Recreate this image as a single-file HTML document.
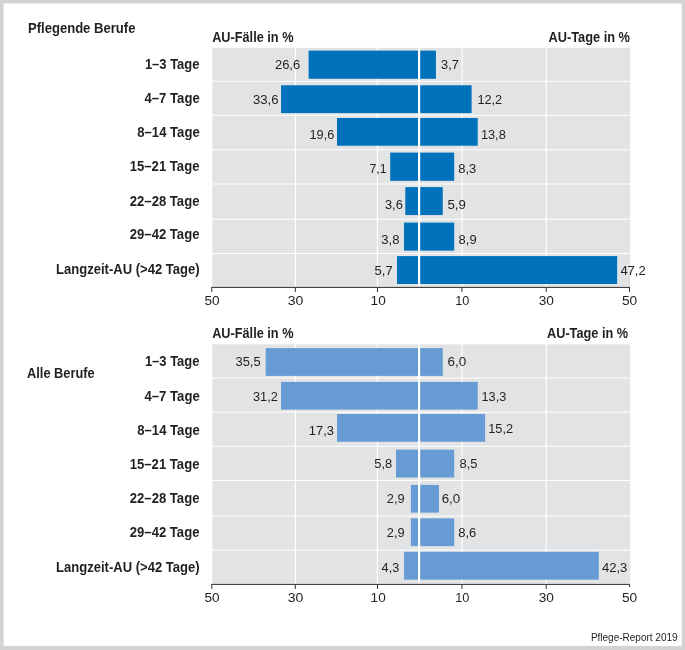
<!DOCTYPE html>
<html lang="de">
<head>
<meta charset="utf-8">
<title>AU-Fälle und AU-Tage nach Dauer</title>
<style>
html,body{margin:0;padding:0;background:#fff;}
body{width:685px;height:650px;overflow:hidden;font-family:"Liberation Sans", sans-serif;}
svg{display:block;will-change:transform;}
text{font-family:"Liberation Sans", sans-serif;fill:#231f20;}
.n{font-size:13.2px;font-weight:400;}
.b{font-size:14.0px;font-weight:700;}
.f{font-size:10.0px;font-weight:400;}
</style>
</head>
<body>
<svg width="685" height="650" viewBox="0 0 685 650">
<rect x="0" y="0" width="685" height="650" fill="#d1d3d4"/>
<rect x="3.6" y="3.5" width="678.1" height="642.4" fill="#fff"/>
<!-- chart 1 -->
<g>
<rect x="212.25" y="47.8" width="417.95" height="239.1" fill="#e2e3e5"/>
<rect x="212.25" y="80.8" width="417.95" height="1" fill="#fff"/>
<rect x="212.25" y="114.8" width="417.95" height="1" fill="#fff"/>
<rect x="212.25" y="149.3" width="417.95" height="1" fill="#fff"/>
<rect x="212.25" y="183.5" width="417.95" height="1" fill="#fff"/>
<rect x="212.25" y="218.7" width="417.95" height="1" fill="#fff"/>
<rect x="212.25" y="253.05" width="417.95" height="1" fill="#fff"/>
<rect x="294.82" y="47.8" width="1.15" height="239.1" fill="#fff"/>
<rect x="376.82" y="47.8" width="1.15" height="239.1" fill="#fff"/>
<rect x="461.52" y="47.8" width="1.15" height="239.1" fill="#fff"/>
<rect x="545.62" y="47.8" width="1.15" height="239.1" fill="#fff"/>
<rect x="308.6" y="50.6" width="127.35" height="28.2" fill="#0072bc"/>
<rect x="281.05" y="85.3" width="190.55" height="27.8" fill="#0072bc"/>
<rect x="337" y="118" width="140.7" height="27.75" fill="#0072bc"/>
<rect x="390.2" y="152.6" width="64" height="28.2" fill="#0072bc"/>
<rect x="405.3" y="187.1" width="37.45" height="27.95" fill="#0072bc"/>
<rect x="404" y="222.6" width="50.2" height="28" fill="#0072bc"/>
<rect x="397" y="256.1" width="220.15" height="27.9" fill="#0072bc"/>
<rect x="418" y="47.8" width="2.2" height="238.1" fill="#fff"/>
<rect x="211.3" y="286.9" width="418.7" height="1" fill="#332f30"/>
<rect x="211.3" y="287.4" width="1" height="4.5" fill="#332f30"/>
<rect x="294.85" y="287.4" width="1" height="4.5" fill="#332f30"/>
<rect x="377" y="287.4" width="1" height="4.5" fill="#332f30"/>
<rect x="461.4" y="287.4" width="1" height="4.5" fill="#332f30"/>
<rect x="545.7" y="287.4" width="1" height="4.5" fill="#332f30"/>
<rect x="629" y="287.4" width="1" height="4.5" fill="#332f30"/>
</g>
<!-- chart 2 -->
<g>
<rect x="212.25" y="344.35" width="417.95" height="239.55" fill="#e2e3e5"/>
<rect x="212.25" y="377.5" width="417.95" height="1" fill="#fff"/>
<rect x="212.25" y="411.7" width="417.95" height="1" fill="#fff"/>
<rect x="212.25" y="445.8" width="417.95" height="1" fill="#fff"/>
<rect x="212.25" y="480" width="417.95" height="1" fill="#fff"/>
<rect x="212.25" y="515.6" width="417.95" height="1" fill="#fff"/>
<rect x="212.25" y="549.6" width="417.95" height="1" fill="#fff"/>
<rect x="294.82" y="344.35" width="1.15" height="239.55" fill="#fff"/>
<rect x="376.82" y="344.35" width="1.15" height="239.55" fill="#fff"/>
<rect x="461.52" y="344.35" width="1.15" height="239.55" fill="#fff"/>
<rect x="545.62" y="344.35" width="1.15" height="239.55" fill="#fff"/>
<rect x="265.7" y="348.1" width="177.1" height="27.8" fill="#669bd3"/>
<rect x="281.05" y="381.9" width="196.65" height="27.7" fill="#669bd3"/>
<rect x="337" y="414" width="148.1" height="27.75" fill="#669bd3"/>
<rect x="396" y="449.65" width="58.2" height="27.85" fill="#669bd3"/>
<rect x="410.9" y="484.9" width="28.05" height="27.7" fill="#669bd3"/>
<rect x="410.9" y="518.4" width="43.3" height="27.7" fill="#669bd3"/>
<rect x="404" y="551.8" width="194.8" height="27.85" fill="#669bd3"/>
<rect x="418" y="344.35" width="2.2" height="238.55" fill="#fff"/>
<rect x="211.3" y="583.9" width="418.7" height="1" fill="#332f30"/>
<rect x="211.3" y="584.4" width="1" height="4.5" fill="#332f30"/>
<rect x="294.85" y="584.4" width="1" height="4.5" fill="#332f30"/>
<rect x="377" y="584.4" width="1" height="4.5" fill="#332f30"/>
<rect x="461.4" y="584.4" width="1" height="4.5" fill="#332f30"/>
<rect x="545.7" y="584.4" width="1" height="4.5" fill="#332f30"/>
<rect x="629" y="584.4" width="1" height="2.5" fill="#332f30"/>
</g>
<!-- text -->
<text class="n" x="274.92" y="69" textLength="25.32" lengthAdjust="spacingAndGlyphs">26,6</text>
<text class="n" x="252.98" y="104" textLength="25.61" lengthAdjust="spacingAndGlyphs">33,6</text>
<text class="n" x="309.53" y="139" textLength="24.85" lengthAdjust="spacingAndGlyphs">19,6</text>
<text class="n" x="369.52" y="173" textLength="17.06" lengthAdjust="spacingAndGlyphs">7,1</text>
<text class="n" x="384.92" y="209" textLength="17.92" lengthAdjust="spacingAndGlyphs">3,6</text>
<text class="n" x="381.32" y="244" textLength="18.19" lengthAdjust="spacingAndGlyphs">3,8</text>
<text class="n" x="374.62" y="275" textLength="18.13" lengthAdjust="spacingAndGlyphs">5,7</text>
<text class="n" x="441.12" y="69" textLength="17.77" lengthAdjust="spacingAndGlyphs">3,7</text>
<text class="n" x="477.38" y="104" textLength="24.85" lengthAdjust="spacingAndGlyphs">12,2</text>
<text class="n" x="480.88" y="139" textLength="24.9" lengthAdjust="spacingAndGlyphs">13,8</text>
<text class="n" x="458.17" y="173" textLength="18.08" lengthAdjust="spacingAndGlyphs">8,3</text>
<text class="n" x="447.42" y="209" textLength="18.42" lengthAdjust="spacingAndGlyphs">5,9</text>
<text class="n" x="458.62" y="244" textLength="17.97" lengthAdjust="spacingAndGlyphs">8,9</text>
<text class="n" x="620.39" y="275" textLength="25.35" lengthAdjust="spacingAndGlyphs">47,2</text>
<text class="b" x="144.88" y="69" textLength="54.59" lengthAdjust="spacingAndGlyphs">1–3 Tage</text>
<text class="b" x="144.54" y="103" textLength="55.17" lengthAdjust="spacingAndGlyphs">4–7 Tage</text>
<text class="b" x="137.29" y="137" textLength="62.42" lengthAdjust="spacingAndGlyphs">8–14 Tage</text>
<text class="b" x="129.78" y="171" textLength="69.68" lengthAdjust="spacingAndGlyphs">15–21 Tage</text>
<text class="b" x="129.79" y="206" textLength="69.67" lengthAdjust="spacingAndGlyphs">22–28 Tage</text>
<text class="b" x="129.79" y="239" textLength="69.67" lengthAdjust="spacingAndGlyphs">29–42 Tage</text>
<text class="b" x="55.99" y="274" textLength="143.62" lengthAdjust="spacingAndGlyphs">Langzeit-AU (&gt;42 Tage)</text>
<text class="b" x="27.94" y="33" textLength="107.47" lengthAdjust="spacingAndGlyphs">Pflegende Berufe</text>
<text class="b" x="212.14" y="42" textLength="81.37" lengthAdjust="spacingAndGlyphs">AU-Fälle in %</text>
<text class="b" x="548.44" y="42" textLength="81.57" lengthAdjust="spacingAndGlyphs">AU-Tage in %</text>
<text class="n" x="204.4" y="305" textLength="15.21" lengthAdjust="spacingAndGlyphs">50</text>
<text class="n" x="287.77" y="305" textLength="15.65" lengthAdjust="spacingAndGlyphs">30</text>
<text class="n" x="370.62" y="305" textLength="15.13" lengthAdjust="spacingAndGlyphs">10</text>
<text class="n" x="455.18" y="305" textLength="14.19" lengthAdjust="spacingAndGlyphs">10</text>
<text class="n" x="538.67" y="305" textLength="15.29" lengthAdjust="spacingAndGlyphs">30</text>
<text class="n" x="622.01" y="305" textLength="15.25" lengthAdjust="spacingAndGlyphs">50</text>
<text class="n" x="235.49" y="366" textLength="25.15" lengthAdjust="spacingAndGlyphs">35,5</text>
<text class="n" x="252.98" y="401" textLength="24.91" lengthAdjust="spacingAndGlyphs">31,2</text>
<text class="n" x="308.87" y="435" textLength="25.06" lengthAdjust="spacingAndGlyphs">17,3</text>
<text class="n" x="374.32" y="468" textLength="18.02" lengthAdjust="spacingAndGlyphs">5,8</text>
<text class="n" x="386.82" y="503" textLength="17.77" lengthAdjust="spacingAndGlyphs">2,9</text>
<text class="n" x="386.82" y="537" textLength="17.77" lengthAdjust="spacingAndGlyphs">2,9</text>
<text class="n" x="381.58" y="572" textLength="17.65" lengthAdjust="spacingAndGlyphs">4,3</text>
<text class="n" x="447.52" y="366" textLength="18.73" lengthAdjust="spacingAndGlyphs">6,0</text>
<text class="n" x="481.54" y="401" textLength="24.69" lengthAdjust="spacingAndGlyphs">13,3</text>
<text class="n" x="488.18" y="433" textLength="24.9" lengthAdjust="spacingAndGlyphs">15,2</text>
<text class="n" x="459.48" y="468" textLength="18.11" lengthAdjust="spacingAndGlyphs">8,5</text>
<text class="n" x="441.7" y="503" textLength="18.55" lengthAdjust="spacingAndGlyphs">6,0</text>
<text class="n" x="458.18" y="537" textLength="18.12" lengthAdjust="spacingAndGlyphs">8,6</text>
<text class="n" x="601.89" y="572" textLength="25.5" lengthAdjust="spacingAndGlyphs">42,3</text>
<text class="b" x="144.88" y="366" textLength="54.59" lengthAdjust="spacingAndGlyphs">1–3 Tage</text>
<text class="b" x="144.54" y="401" textLength="55.17" lengthAdjust="spacingAndGlyphs">4–7 Tage</text>
<text class="b" x="137.29" y="435" textLength="62.42" lengthAdjust="spacingAndGlyphs">8–14 Tage</text>
<text class="b" x="129.78" y="469" textLength="69.68" lengthAdjust="spacingAndGlyphs">15–21 Tage</text>
<text class="b" x="129.79" y="503" textLength="69.67" lengthAdjust="spacingAndGlyphs">22–28 Tage</text>
<text class="b" x="129.79" y="537" textLength="69.67" lengthAdjust="spacingAndGlyphs">29–42 Tage</text>
<text class="b" x="55.99" y="572" textLength="143.62" lengthAdjust="spacingAndGlyphs">Langzeit-AU (&gt;42 Tage)</text>
<text class="b" x="27.09" y="378" textLength="67.52" lengthAdjust="spacingAndGlyphs">Alle Berufe</text>
<text class="b" x="212.14" y="338" textLength="81.37" lengthAdjust="spacingAndGlyphs">AU-Fälle in %</text>
<text class="b" x="547" y="338" textLength="81.07" lengthAdjust="spacingAndGlyphs">AU-Tage in %</text>
<text class="n" x="204.4" y="602" textLength="15.21" lengthAdjust="spacingAndGlyphs">50</text>
<text class="n" x="287.77" y="602" textLength="15.65" lengthAdjust="spacingAndGlyphs">30</text>
<text class="n" x="370.62" y="602" textLength="15.13" lengthAdjust="spacingAndGlyphs">10</text>
<text class="n" x="455.18" y="602" textLength="14.19" lengthAdjust="spacingAndGlyphs">10</text>
<text class="n" x="538.67" y="602" textLength="15.29" lengthAdjust="spacingAndGlyphs">30</text>
<text class="n" x="622.01" y="602" textLength="15.25" lengthAdjust="spacingAndGlyphs">50</text>
<text class="f" x="590.88" y="641" textLength="86.7" lengthAdjust="spacingAndGlyphs">Pflege-Report 2019</text>
</svg>
</body>
</html>
